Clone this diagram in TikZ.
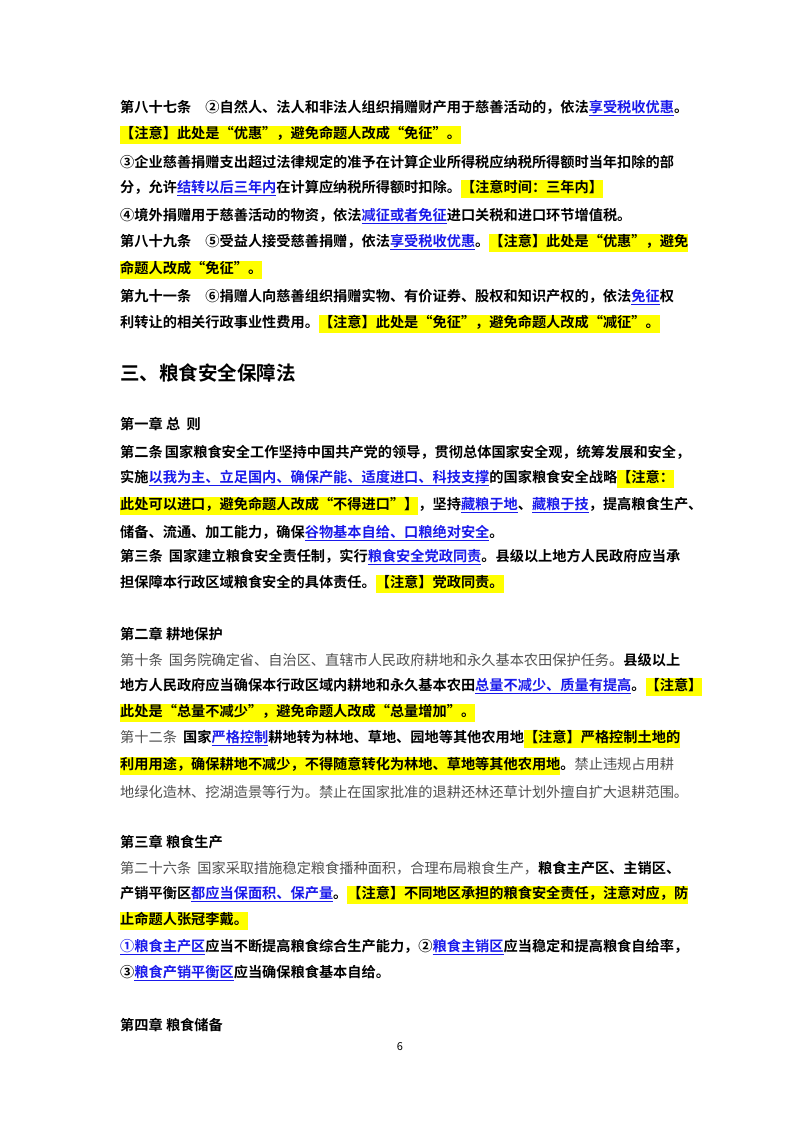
\documentclass[tikz,border=0pt]{standalone}
\usepackage{fontspec}
\setmainfont{Noto Sans CJK SC}[BoldFont={* Bold}]
\XeTeXlinebreaklocale "zh"
\XeTeXlinebreakskip=0pt plus 3pt
\definecolor{linkblue}{RGB}{25,25,235}
\definecolor{hly}{RGB}{255,255,0}
\definecolor{txtgray}{RGB}{80,80,80}
\newcommand{\hlt}[1]{{\setlength{\fboxsep}{0pt}\colorbox{hly}{\strut\rule{0pt}{13pt}#1}}}
\newcommand{\lk}[1]{\textcolor{linkblue}{\underline{#1}}}
\newcommand{\gr}[1]{{\mdseries\color{txtgray}#1}}
\newcommand{\full}[1]{\makebox[560pt][s]{#1}}
\begin{document}
\begin{tikzpicture}[x=1pt,y=-1pt,
  ln/.style={anchor=west,inner sep=0pt,font=\fontsize{14.2}{18}\selectfont\bfseries},
  hd/.style={anchor=west,inner sep=0pt,font=\fontsize{19.5}{22}\selectfont\bfseries}]
\useasboundingbox[fill=white] (0,0) rectangle (800,1132);
\node[ln] (l1) at (120,108) {\full{第八十七条\quad ②自然人、法人和非法人组织捐赠财产用于慈善活动的，依法\lk{享受税收优惠}。}};
\node[ln] (l2) at (120,135) {\hlt{【注意】此处是“优惠”，避免命题人改成“免征”。}};
\node[ln] (l3) at (120,162) {\full{③企业慈善捐赠支出超过法律规定的准予在计算企业所得税应纳税所得额时当年扣除的部}};
\node[ln] (l4) at (120,189) {分，允许\lk{结转以后三年内}在计算应纳税所得额时扣除。\hlt{【注意时间：三年内】}};
\node[ln] (l5) at (120,216) {④境外捐赠用于慈善活动的物资，依法\lk{减征或者免征}进口关税和进口环节增值税。};
\node[ln] (l6) at (120,243) {\full{第八十九条\quad ⑤受益人接受慈善捐赠，依法\lk{享受税收优惠}。\hlt{【注意】此处是“优惠”，避免}}};
\node[ln] (l7) at (120,270) {\hlt{命题人改成“免征”。}};
\node[ln] (l8) at (120,297) {\full{第九十一条\quad ⑥捐赠人向慈善组织捐赠实物、有价证券、股权和知识产权的，依法\lk{免征}权}};
\node[ln] (l9) at (120,324) {利转让的相关行政事业性费用。\hlt{【注意】此处是“免征”，避免命题人改成“减征”。}};
\node[hd] (h3) at (120,373) {三、粮食安全保障法};
\node[ln] (c1) at (120,424) {第一章\ 总\ \ 则};
\node[ln] (a1) at (120,452) {\full{第二条\ 国家粮食安全工作坚持中国共产党的领导，贯彻总体国家安全观，统筹发展和安全，}};
\node[ln] (a2) at (120,479) {\full{实施\lk{以我为主、立足国内、确保产能、适度进口、科技支撑}的国家粮食安全战略\hlt{【注意：}}};
\node[ln] (a3) at (120,506) {\full{\hlt{此处可以进口，避免命题人改成“不得进口”】}，坚持\lk{藏粮于地}、\lk{藏粮于技}，提高粮食生产、}};
\node[ln] (a4) at (120,533) {储备、流通、加工能力，确保\lk{谷物基本自给、口粮绝对安全}。};
\node[ln] (a5) at (120,557) {\full{第三条\ 国家建立粮食安全责任制，实行\lk{粮食安全党政同责}。县级以上地方人民政府应当承}};
\node[ln] (a6) at (120,584) {担保障本行政区域粮食安全的具体责任。\hlt{【注意】党政同责。}};
\node[ln] (c2) at (120,634) {第二章\ 耕地保护};
\node[ln] (b1) at (120,660) {\full{\gr{第十条\ 国务院确定省、自治区、直辖市人民政府耕地和永久基本农田保护任务。}县级以上}};
\node[ln] (b2) at (120,687) {\full{地方人民政府应当确保本行政区域内耕地和永久基本农田\lk{总量不减少、质量有提高}。\hlt{【注意】}}};
\node[ln] (b3) at (120,713) {\hlt{此处是“总量不减少”，避免命题人改成“总量增加”。}};
\node[ln] (b4) at (120,739) {\full{\gr{第十二条}\ 国家\lk{严格控制}耕地转为林地、草地、园地等其他农用地\hlt{【注意】严格控制土地的}}};
\node[ln] (b5) at (120,766) {\full{\hlt{利用用途，确保耕地不减少，不得随意转化为林地、草地等其他农用地}。\gr{禁止违规占用耕}}};
\node[ln] (b6) at (120,792) {\full{\gr{地绿化造林、挖湖造景等行为。禁止在国家批准的退耕还林还草计划外擅自扩大退耕范围。}}};
\node[ln] (c3) at (120,842) {第三章\ 粮食生产};
\node[ln] (d1) at (120,868) {\full{\gr{第二十六条\ 国家采取措施稳定粮食播种面积，合理布局粮食生产，}粮食主产区、主销区、}};
\node[ln] (d2) at (120,895) {\full{产销平衡区\lk{都应当保面积、保产量}。\hlt{【注意】不同地区承担的粮食安全责任，注意对应，防}}};
\node[ln] (d3) at (120,921) {\hlt{止命题人张冠李戴。}};
\node[ln] (d4) at (120,947) {\full{\lk{①粮食主产区}应当不断提高粮食综合生产能力，②\lk{粮食主销区}应当稳定和提高粮食自给率，}};
\node[ln] (d5) at (120,973) {③\lk{粮食产销平衡区}应当确保粮食基本自给。};
\node[ln] (c4) at (120,1025) {第四章\ 粮食储备};
\node[anchor=center,inner sep=0pt,font=\fontsize{11}{13}\selectfont] (pg) at (400,1047) {6};
\end{tikzpicture}
\end{document}
